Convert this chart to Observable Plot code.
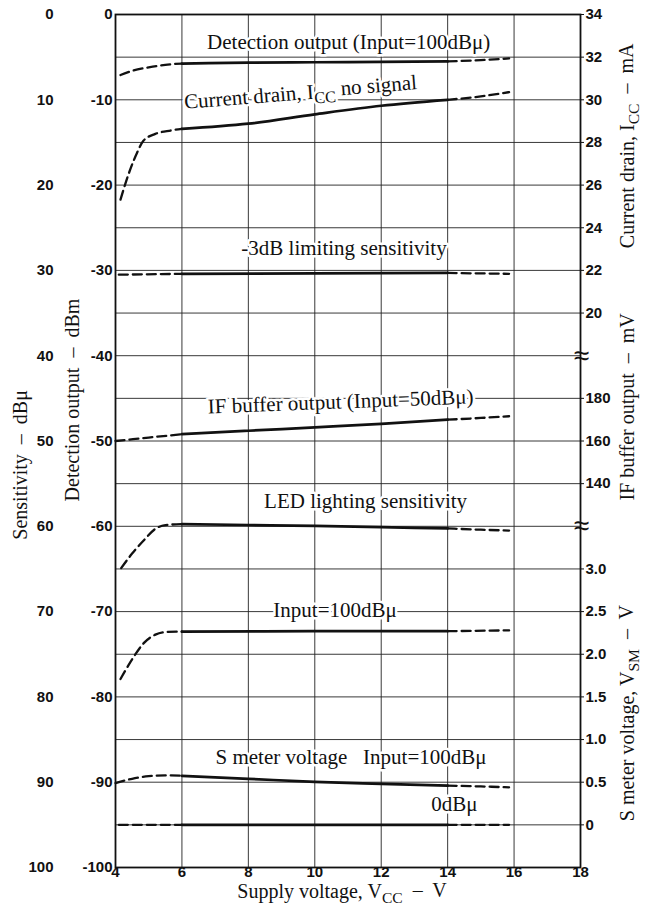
<!DOCTYPE html>
<html><head><meta charset="utf-8">
<script src="https://cdn.jsdelivr.net/npm/d3@7"></script>
<script src="https://cdn.jsdelivr.net/npm/@observablehq/plot@0.6"></script>
<style>body{margin:0;background:#fff}</style>
</head><body><div id="chart"></div>
<script>
// ---- axes / ticks ----
const xTicks = [4, 6, 8, 10, 12, 14, 16, 18];
const gridX = [6, 8, 10, 12, 14, 16];
const detTicks = [0, -10, -20, -30, -40, -50, -60, -70, -80, -90, -100];
const sensTicks = [0, 10, 20, 30, 40, 50, 60, 70, 80, 90, 100];
const gridY = [-5, -10, -15, -20, -25, -30, -35, -40, -45, -50, -55, -60, -65, -70, -75, -80, -85, -90, -95];
const currentTicks = [34, 32, 30, 28, 26, 24, 22, 20];   // mA
const ifTicks = [180, 160, 140];                           // mV
const smTicks = [3.0, 2.5, 2.0, 1.5, 1.0, 0.5, 0];         // V
const breaks = [-40, -60];

// ---- curves (x = Vcc, y = position on the detection-output scale) ----
const detOut = [[4.15,-7.1],[4.5,-6.6],[5,-6.2],[5.5,-5.9],[6,-5.75],[8,-5.65],[10,-5.6],[12,-5.55],[14,-5.5],[15,-5.35],[15.85,-5.15]];
const iccNoSig = [[4.15,-21.7],[4.3,-19.8],[4.45,-18.1],[4.65,-16.2],[4.84,-14.8],[5.2,-14.0],[5.66,-13.6],[6,-13.4],[8,-12.8],[10,-11.7],[12,-10.7],[14,-10.0],[15,-9.6],[15.85,-9.1]];
const limSens = [[4.1,-30.5],[6,-30.4],[10,-30.35],[14,-30.3],[15.85,-30.4]];
const ifBuf = [[4,-50.0],[5,-49.6],[6,-49.2],[8,-48.8],[10,-48.4],[12,-48.0],[14,-47.5],[15,-47.3],[15.85,-47.1]];
const ledSens = [[4.17,-64.9],[4.5,-63.2],[4.84,-61.7],[5.2,-60.3],[5.5,-59.85],[6,-59.75],[8,-59.85],[10,-59.95],[12,-60.1],[14,-60.25],[15,-60.4],[15.85,-60.5]];
const smIn100a = [[4.15,-77.9],[4.5,-75.6],[4.85,-73.7],[5.2,-72.7],[5.5,-72.4],[6,-72.35],[10,-72.3],[14,-72.3],[15.85,-72.2]];
const smIn100 = [[4,-90.1],[4.5,-89.6],[5,-89.3],[5.5,-89.2],[6,-89.25],[8,-89.6],[10,-89.97],[12,-90.2],[14,-90.4],[15,-90.5],[15.85,-90.6]];
const smIn0 = [[4.1,-95],[6,-95],[10,-95],[14,-95],[15.85,-95]];
const curves = {detOut, iccNoSig, limSens, ifBuf, ledSens, smIn100a, smIn100, smIn0};

// ---- in-chart labels ----
const labelText = ["Detection output (Input=100dBμ)", "Current drain, I_{CC} no signal", "-3dB limiting sensitivity",
  "IF buffer output (Input=50dBμ)", "LED lighting sensitivity", "Input=100dBμ", "S meter voltage   Input=100dBμ", "0dBμ"];
const labelX = [11.02, 9.57, 10.88, 10.78, 11.53, 10.61, 11.09, 14.2];
const labelY = [-3.3, -9.2, -27.4, -45.4, -57.1, -69.8, -87.1, -92.6];
const labelRot = [0, -4.5, 0, -2.2, 0, 0, 0, 0];

// ---- build tables ----
const rows = [];
for (const [name, pts] of Object.entries(curves)) {
  const segs = [["a", p => p[0] <= 6, true], ["b", p => p[0] >= 6 && p[0] <= 14, false], ["c", p => p[0] >= 14, true]];
  for (const [s, f, dashed] of segs)
    for (const p of pts.filter(f)) rows.push({x: p[0], y: p[1], z: name + s, dashed});
}
const labels = labelText.map((t, i) => ({t, x: labelX[i], y: labelY[i], r: labelRot[i]}));

const curPos = v => (v - 34) * 2.5;
const ifPos = v => -45 + (v - 180) / 4;
const smPos = v => -95 + v * 10;
const rightMap = new Map();
currentTicks.forEach(v => rightMap.set(Math.round(curPos(v) * 100) / 100, String(v)));
ifTicks.forEach(v => rightMap.set(Math.round(ifPos(v) * 100) / 100, String(v)));
smTicks.forEach(v => rightMap.set(Math.round(smPos(v) * 100) / 100, v === 0 ? "0" : v.toFixed(1)));
const rightPos = [...rightMap.keys()];

const serif = "'Liberation Serif', 'Times New Roman', serif";
const tickFont = "'Liberation Sans Narrow', 'Liberation Sans', sans-serif";
const ink = "#111";

const chart = Plot.plot({
  width: 649, height: 909,
  marginTop: 14, marginBottom: 42, marginLeft: 115, marginRight: 69,
  x: {domain: [4, 18]},
  y: {domain: [-100, 0]},
  style: {fontFamily: tickFont, fontSize: "15px", color: ink, background: "#fff"},
  marks: [
    Plot.ruleY(gridY, {x1: 4, x2: 18, stroke: "#222", strokeWidth: 0.9}),
    Plot.ruleX(gridX, {y1: -100, y2: 0, stroke: "#222", strokeWidth: 0.9}),
    Plot.text(labels, {x: "x", y: "y", text: "t", rotate: "r", fontFamily: serif, fontSize: 21, fill: ink,
      stroke: "white", strokeWidth: 5, textAnchor: "middle"}),
    Plot.line(rows.filter(d => d.dashed), {x: "x", y: "y", z: "z", curve: "monotone-x", stroke: ink, strokeWidth: 2.3, strokeDasharray: "9,5"}),
    Plot.line(rows.filter(d => !d.dashed), {x: "x", y: "y", z: "z", curve: "monotone-x", stroke: ink, strokeWidth: 2.7}),
    Plot.frame({stroke: ink, strokeWidth: 1.8}),
    Plot.axisX(xTicks, {anchor: "bottom", tickSize: 0, tickPadding: 0, dy: -1, tickFormat: d => String(d), fontSize: 15, fontWeight: "bold", label: null}),
    Plot.axisY(detTicks, {anchor: "left", tickSize: 0, tickPadding: 3, tickFormat: d => d === 0 ? "0" : "-" + (-d), fontSize: 15, fontWeight: "bold", label: null}),
    Plot.axisY(detTicks, {anchor: "left", tickSize: 0, tickPadding: 62, tickFormat: d => String(-d), fontSize: 15, fontWeight: "bold", label: null}),
    Plot.axisY(rightPos, {anchor: "right", tickSize: 3, tickPadding: 2, tickFormat: d => rightMap.get(Math.round(d * 100) / 100), fontSize: 15, fontWeight: "bold", label: null}),
    Plot.text(breaks, {x: 18, y: d => d, text: () => "≈", fontSize: 28, fill: ink, dx: 1}),
    // axis titles
    Plot.text(["Sensitivity  –  dBμ"], {x: 4, y: [-52.8], dx: -95, rotate: -90, fontFamily: serif, fontSize: 20, fill: ink}),
    Plot.text(["Detection output  –  dBm"], {x: 4, y: [-45.2], dx: -43, rotate: -90, fontFamily: serif, fontSize: 20, fill: ink}),
    Plot.text(["Current drain, I_{CC}  –  mA"], {x: 18, y: [-15.4], dx: 47, rotate: -90, fontFamily: serif, fontSize: 20, fill: ink}),
    Plot.text(["IF buffer output  –  mV"], {x: 18, y: [-46.0], dx: 47, rotate: -90, fontFamily: serif, fontSize: 20, fill: ink}),
    Plot.text(["S meter voltage, V_{SM}  –  V"], {x: 18, y: [-81.9], dx: 47, rotate: -90, fontFamily: serif, fontSize: 20, fill: ink}),
    Plot.text(["Supply voltage, V_{CC}  –  V"], {x: [10.82], y: -100, dy: 24, fontFamily: serif, fontSize: 20, fill: ink})
  ]
});
document.getElementById("chart").append(chart);

// subscripts: turn "_{..}" into smaller lowered tspans
d3.select(chart).selectAll("text").each(function () {
  const s = this.textContent;
  if (!s.includes("_{")) return;
  const parts = s.split(/(_\{[^}]*\})/);
  const el = d3.select(this);
  el.text(null);
  let lowered = false;
  for (const p of parts) {
    if (!p) continue;
    if (p.startsWith("_{")) {
      el.append("tspan").attr("dy", "0.3em").attr("font-size", "78%").text(p.slice(2, -1));
      lowered = true;
    } else {
      const t = el.append("tspan").text(p);
      if (lowered) { t.attr("dy", "-0.3em"); lowered = false; }
    }
  }
});
</script></body></html>
